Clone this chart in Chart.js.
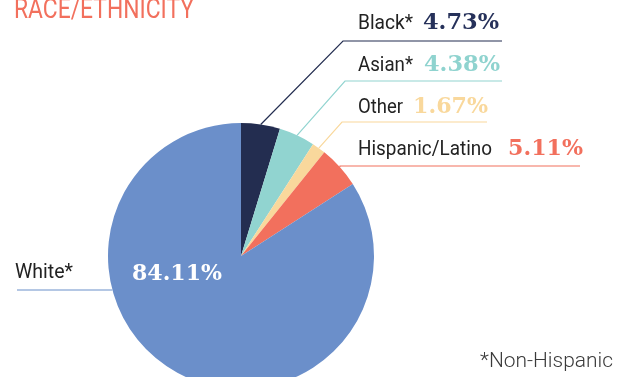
<!DOCTYPE html>
<html>
<head>
<meta charset="utf-8">
<script src="https://cdn.jsdelivr.net/npm/chart.js@4/dist/chart.umd.min.js"></script>
<style>
    html, body { margin: 0; padding: 0; background: #fff; overflow: hidden; }
    #wrap { position: relative; width: 629px; height: 377px; overflow: hidden; }
    #wrap canvas { position: absolute; left: 0; top: 0; }
</style>
</head>
<body>
<div id="wrap"><canvas id="raceChart" width="629" height="400"></canvas></div>
<script>
// data
const categories = ['Black*', 'Asian*', 'Other', 'Hispanic/Latino', 'White*'];
const shares = [4.73, 4.38, 1.67, 5.11, 84.11];
const sliceColors = ['#232d50', '#91d4d0', '#f9d89c', '#f2705d', '#6b8fca'];
const valueColors = ['#26315a', '#8fd3cf', '#f9d89c', '#f2705d', '#ffffff'];

const titleText = 'RACE/ETHNICITY';
const footnoteText = '*Non-Hispanic';

// callout placement (leader line elbow, line end, text spots)
const callouts = [
    { elbow: [343, 41], lineEnd: 502, labelX: 358, valueX: 423, baseline: 29, labelW: 55, valueW: 76 },
    { elbow: [345, 81], lineEnd: 502, labelX: 358, valueX: 424, baseline: 71, labelW: 55, valueW: 76 },
    { elbow: [342, 122], lineEnd: 487, labelX: 358, valueX: 413, baseline: 113, labelW: 45, valueW: 75 },
    { elbow: [340, 166], lineEnd: 580, labelX: 358, valueX: 508, baseline: 155, labelW: 134, valueW: 75 }
];
const whiteCallout = { lineStart: 17, lineY: 290, labelX: 15, labelBaseline: 278, labelW: 58, valueX: 132, valueBaseline: 280, valueW: 90 };

const labelFont = '20px Roboto';
const valueFont = 'bold 23px "DejaVu Serif"';
const labelColor = '#222222';

function fmt(v) {
    return v.toFixed(2) + '%';
}

const calloutPlugin = {
    id: 'callouts',
    afterDatasetsDraw(chart) {
        const ctx = chart.ctx;
        const arcs = chart.getDatasetMeta(0).data;
        ctx.save();

        // title
        ctx.fillStyle = '#f2705d';
        ctx.font = '27px Roboto';
        ctx.textBaseline = 'alphabetic';
        ctx.textAlign = 'left';
        ctx.fillText(titleText, 14, 18, 180);

        callouts.forEach((c, i) => {
            const arc = arcs[i];
            const p = arc.getProps(['x', 'y', 'startAngle', 'endAngle', 'outerRadius'], true);
            const mid = (p.startAngle + p.endAngle) / 2;
            const sx = p.x + Math.cos(mid) * p.outerRadius;
            const sy = p.y + Math.sin(mid) * p.outerRadius;

            ctx.strokeStyle = sliceColors[i];
            ctx.lineWidth = 1.2;
            ctx.beginPath();
            ctx.moveTo(sx, sy);
            ctx.lineTo(c.elbow[0], c.elbow[1]);
            ctx.lineTo(c.lineEnd, c.elbow[1]);
            ctx.stroke();

            ctx.fillStyle = labelColor;
            ctx.font = labelFont;
            ctx.fillText(categories[i], c.labelX, c.baseline, c.labelW);

            ctx.fillStyle = valueColors[i];
            ctx.font = valueFont;
            ctx.fillText(fmt(shares[i]), c.valueX, c.baseline, c.valueW);
        });

        // White slice: line ends on the pie edge at a fixed height
        const w = whiteCallout;
        const wi = categories.length - 1;
        const wp = arcs[wi].getProps(['x', 'y', 'outerRadius'], true);
        const dy = w.lineY - wp.y;
        const edgeX = wp.x - Math.sqrt(wp.outerRadius * wp.outerRadius - dy * dy);
        ctx.strokeStyle = sliceColors[wi];
        ctx.lineWidth = 1.2;
        ctx.beginPath();
        ctx.moveTo(w.lineStart, w.lineY);
        ctx.lineTo(edgeX, w.lineY);
        ctx.stroke();

        ctx.fillStyle = labelColor;
        ctx.font = labelFont;
        ctx.fillText(categories[wi], w.labelX, w.labelBaseline, w.labelW);

        ctx.fillStyle = valueColors[wi];
        ctx.font = 'bold 23px "DejaVu Serif"';
        ctx.fillText(fmt(shares[wi]), w.valueX, w.valueBaseline, w.valueW);

        // footnote
        ctx.fillStyle = '#3a3a3a';
        ctx.font = '300 21px Roboto';
        ctx.fillText(footnoteText, 480, 367, 133);

        ctx.restore();
    }
};

const ctx = document.getElementById('raceChart').getContext('2d');
const chart = new Chart(ctx, {
    type: 'pie',
    data: {
        labels: categories,
        datasets: [{
            data: shares,
            backgroundColor: sliceColors,
            borderWidth: 0
        }]
    },
    options: {
        responsive: false,
        animation: false,
        layout: {
            padding: { left: 108, right: 255, top: 123, bottom: 11 }
        },
        plugins: {
            legend: { display: false },
            tooltip: { enabled: false }
        }
    },
    plugins: [calloutPlugin]
});
</script>
</body>
</html>
